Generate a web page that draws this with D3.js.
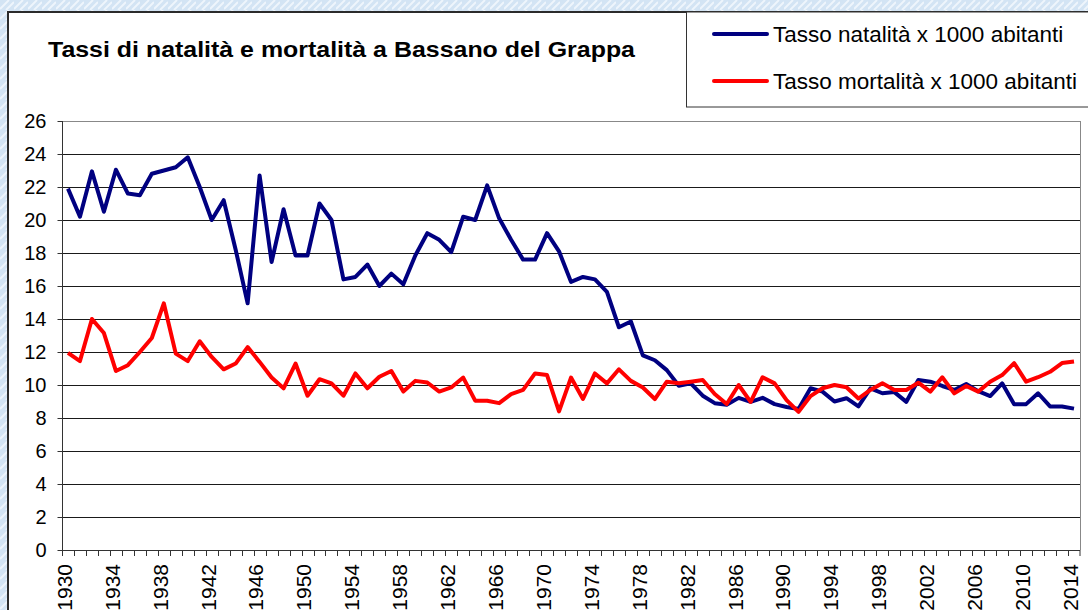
<!DOCTYPE html>
<head>
  <meta charset="UTF-8" />
  <title>Tassi di natalità e mortalità a Bassano del Grappa</title>
  <script src="https://d3js.org/d3.v7.min.js"></script>
  <style>
    body {
      margin: 0;
      overflow: hidden;
      font-family: "Liberation Sans", Arial, sans-serif;
    }
  </style>
</head>

<body>
  <script>
    var width = 1088,
      height = 610;

    // anni 1930 - 2014
    var years = d3.range(1930, 2015);
    var yearLabels = years.filter(function (d) {
      return (d - 1930) % 4 == 0;
    });
    var yTicks = [0, 2, 4, 6, 8, 10, 12, 14, 16, 18, 20, 22, 24, 26];

    // tasso di natalità x 1000 abitanti
    var natalita = [
      21.9, 20.2, 22.95, 20.5, 23.05, 21.6, 21.5, 22.8, 23.0, 23.2,
      23.8, 22.0, 20.0, 21.2, 18.2, 14.95, 22.7, 17.45, 20.65, 17.85,
      17.85, 21.0, 20.0, 16.4, 16.55, 17.3, 16.0, 16.75, 16.1, 17.85,
      19.2, 18.8, 18.05, 20.2, 20.0, 22.1, 20.1, 18.8, 17.6, 17.6,
      19.2, 18.1, 16.25, 16.55, 16.4, 15.65, 13.5, 13.85, 11.8, 11.5,
      10.9, 9.95, 10.1, 9.35, 8.9, 8.8, 9.22, 8.98, 9.22, 8.84,
      8.67, 8.55, 9.8, 9.6, 9.0, 9.2, 8.7, 9.8, 9.5, 9.57,
      8.98, 10.3, 10.2, 9.94, 9.7, 10.06, 9.63, 9.33, 10.1, 8.84,
      8.84, 9.5, 8.7, 8.7, 8.57
    ];

    // tasso di mortalità x 1000 abitanti
    var mortalita = [
      11.95, 11.45, 14.0, 13.15, 10.85, 11.2, 12.0, 12.85, 14.95, 11.9,
      11.45, 12.65, 11.7, 10.95, 11.3, 12.3, 11.4, 10.45, 9.8, 11.3,
      9.35, 10.35, 10.1, 9.35, 10.7, 9.8, 10.5, 10.85, 9.6, 10.25,
      10.15, 9.6, 9.85, 10.45, 9.05, 9.05, 8.9, 9.45, 9.7, 10.7,
      10.6, 8.4, 10.45, 9.15, 10.7, 10.1, 10.95, 10.25, 9.85, 9.15,
      10.2, 10.1, 10.2, 10.3, 9.45, 8.85, 10.0, 8.98, 10.47, 10.1,
      9.08, 8.37, 9.33, 9.8, 10.0, 9.86, 9.18, 9.7, 10.1, 9.7,
      9.7, 10.14, 9.6, 10.47, 9.49, 9.94, 9.6, 10.2, 10.6, 11.33,
      10.2, 10.47, 10.8, 11.33, 11.43
    ];

    var series = [
      { name: "Tasso natalità x 1000 abitanti", color: "#000080", values: natalita },
      { name: "Tasso mortalità x 1000 abitanti", color: "#ff0000", values: mortalita }
    ];

    var svg = d3
      .select("body")
      .append("svg")
      .attr("width", width)
      .attr("height", height);

    // sfondo azzurro "texture"
    var pat = svg
      .append("defs")
      .append("pattern")
      .attr("id", "tex")
      .attr("patternUnits", "userSpaceOnUse")
      .attr("width", 14)
      .attr("height", 10);
    pat.append("rect").attr("width", 14).attr("height", 10).attr("fill", "#d3e4f4");
    pat
      .append("path")
      .attr("d", "M0 9 L9 0 M6 10 L14 2")
      .attr("stroke", "#eef5fc")
      .attr("stroke-width", 2);

    svg.append("rect").attr("width", width).attr("height", height).attr("fill", "url(#tex)");

    // area del grafico
    svg
      .append("rect")
      .attr("x", 8)
      .attr("y", 12)
      .attr("width", width + 20)
      .attr("height", height + 20)
      .attr("fill", "#fff")
      .attr("stroke", "#2b2b2b")
      .attr("stroke-width", 2);

    var x = d3.scaleBand().domain(years).range([62, 1080]);
    var y = d3.scaleLinear().domain([0, 26]).range([550, 121]);

    function cx(d) {
      return x(d) + x.bandwidth() / 2;
    }

    // griglia
    svg
      .append("g")
      .selectAll("line")
      .data(yTicks.slice(1))
      .enter()
      .append("line")
      .attr("x1", 62)
      .attr("x2", 1080)
      .attr("y1", function (d) { return Math.round(y(d)) + 0.5; })
      .attr("y2", function (d) { return Math.round(y(d)) + 0.5; })
      .attr("stroke", function (d) { return d == 26 ? "#888" : "#1a1a1a"; })
      .attr("stroke-width", 1);

    // bordo destro
    svg
      .append("line")
      .attr("x1", 1080.5)
      .attr("x2", 1080.5)
      .attr("y1", y(26))
      .attr("y2", 550)
      .attr("stroke", "#888");

    // asse y
    var yAxis = svg
      .append("g")
      .attr("transform", "translate(62.5,0)")
      .call(d3.axisLeft(y).tickValues(yTicks).tickSize(5).tickPadding(11));
    yAxis.select(".domain").attr("stroke", "#333").attr("d", "M0," + y(26) + "V555");
    yAxis.selectAll(".tick line").attr("stroke", "#333");
    yAxis
      .selectAll("text")
      .attr("font-family", "'Liberation Sans', Arial, sans-serif")
      .attr("font-size", 20)
      .attr("fill", "#000")
      .attr("dy", "0.3em");

    // asse x
    var xAxis = svg.append("g");
    xAxis
      .append("line")
      .attr("x1", 62)
      .attr("x2", 1080)
      .attr("y1", 550.5)
      .attr("y2", 550.5)
      .attr("stroke", "#333");
    xAxis
      .selectAll(".tk")
      .data(years.concat(["end"]))
      .enter()
      .append("line")
      .attr("class", "tk")
      .attr("x1", function (d) { return d == "end" ? 1080 : Math.round(x(d)) + 0.5; })
      .attr("x2", function (d) { return d == "end" ? 1080 : Math.round(x(d)) + 0.5; })
      .attr("y1", 550)
      .attr("y2", 556)
      .attr("stroke", "#333");
    xAxis
      .selectAll("text")
      .data(yearLabels)
      .enter()
      .append("text")
      .attr("transform", function (d) {
        return "translate(" + (cx(d) - 3.5) + ",564) rotate(-90)";
      })
      .attr("text-anchor", "end")
      .attr("dy", "0.35em")
      .attr("font-size", 21)
      .attr("fill", "#000")
      .text(function (d) { return d; });

    // linee
    var line = d3
      .line()
      .x(function (d, i) { return cx(years[i]); })
      .y(function (d) { return y(d); });

    svg
      .append("g")
      .selectAll("path")
      .data(series)
      .enter()
      .append("path")
      .attr("d", function (s) { return line(s.values); })
      .attr("fill", "none")
      .attr("stroke", function (s) { return s.color; })
      .attr("stroke-width", 4)
      .attr("stroke-linejoin", "round");

    // titolo: dimensione adattata alla larghezza dell'originale
    var title = svg
      .append("text")
      .attr("x", 48)
      .attr("y", 57)
      .attr("font-size", 21)
      .attr("font-weight", "bold")
      .text("Tassi di natalità e mortalità a Bassano del Grappa");
    var tl = title.node().getComputedTextLength();
    var fs = Math.min(22, 21 * 587 / tl);
    title.attr("font-size", fs);
    title.attr("textLength", 587).attr("lengthAdjust", "spacingAndGlyphs");

    // legenda
    svg
      .append("rect")
      .attr("x", 686.5)
      .attr("y", 12)
      .attr("width", 420)
      .attr("height", 95)
      .attr("fill", "#fff")
      .attr("stroke", "#333")
      .attr("stroke-width", 1);

    var leg = svg
      .append("g")
      .selectAll("g")
      .data(series)
      .enter()
      .append("g")
      .attr("transform", function (s, i) { return "translate(0," + [34, 81][i] + ")"; });
    leg
      .append("line")
      .attr("x1", 714)
      .attr("x2", 767)
      .attr("stroke", function (s) { return s.color; })
      .attr("stroke-width", 4)
      .attr("stroke-linecap", "round");
    leg
      .append("text")
      .attr("x", 773)
      .attr("y", 8)
      .attr("font-size", 22.5)
      .attr("fill", "#000")
      .text(function (s) { return s.name; });
  </script>
</body>
